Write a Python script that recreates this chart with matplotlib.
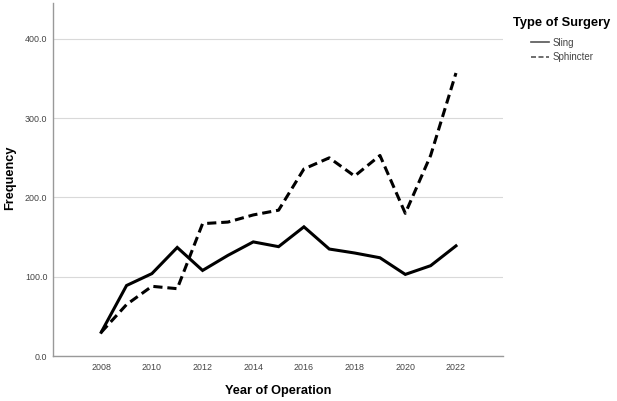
import matplotlib.pyplot as plt
from matplotlib.lines import Line2D

plt.rcParams['font.family'] = ['Liberation Sans', 'DejaVu Sans']

# Data
years = [2008, 2009, 2010, 2011, 2012, 2013, 2014, 2015, 2016, 2017, 2018, 2019, 2020, 2021, 2022]
sling = [30, 89, 104, 137, 108, 127, 144, 138, 163, 135, 130, 124, 103, 114, 139]
sphincter = [30, 65, 88, 85, 167, 169, 178, 184, 236, 250, 227, 253, 180, 253, 357]
x_ticks = [2008, 2010, 2012, 2014, 2016, 2018, 2020, 2022]
y_ticks = [0, 100, 200, 300, 400]

fig = plt.figure(figsize=(6.17, 4.01), dpi=100)
ax = fig.add_axes([0.086, 0.112, 0.729, 0.880])

dash = (0, (3, 1.6))
ax.plot(years, sling, color='black', lw=2.2, solid_joinstyle='miter')
ax.plot(years, sphincter, color='black', lw=2.2, linestyle=dash)

ax.set_xlim(2006.1, 2023.85)
ax.set_ylim(0, 445)
ax.set_xticks(x_ticks)
ax.set_yticks(y_ticks)
ax.set_yticklabels([f"{v:.1f}" for v in y_ticks])
ax.tick_params(length=0, labelsize=6.4, labelcolor='#444444')
ax.tick_params(axis='x', pad=5)
ax.tick_params(axis='y', pad=4)

for side in ['top', 'right']:
    ax.spines[side].set_visible(False)
for side in ['left', 'bottom']:
    ax.spines[side].set_color('#999999')
    ax.spines[side].set_linewidth(1.0)

ax.yaxis.grid(True, color='#d9d9d9', lw=0.8)
ax.set_axisbelow(True)

ax.set_xlabel('Year of Operation', fontsize=9.2, fontweight='bold', labelpad=9)
fig.text(10 / 617, 1 - 178 / 401, 'Frequency', rotation=90, fontsize=9.2,
         fontweight='bold', ha='center', va='center')

# legend: bold title, entries indented below it
fig.text(513 / 617, 1 - 23 / 401, 'Type of Surgery', fontsize=9.3,
         fontweight='bold', ha='left', va='center')
handles = [Line2D([], [], color='#555555', lw=1.2),
           Line2D([], [], color='#555555', lw=1.2, linestyle=(0, (3, 1.5)))]
leg = fig.legend(handles, ['Sling', 'Sphincter'], loc='upper left',
                 bbox_to_anchor=(524 / 617, 1 - 31 / 401), frameon=False,
                 fontsize=7, handlelength=1.9, handletextpad=0.3,
                 labelspacing=0.45, borderpad=0.2)
for t in leg.get_texts():
    t.set_color('#444444')

fig.savefig('out.png', dpi=100)
